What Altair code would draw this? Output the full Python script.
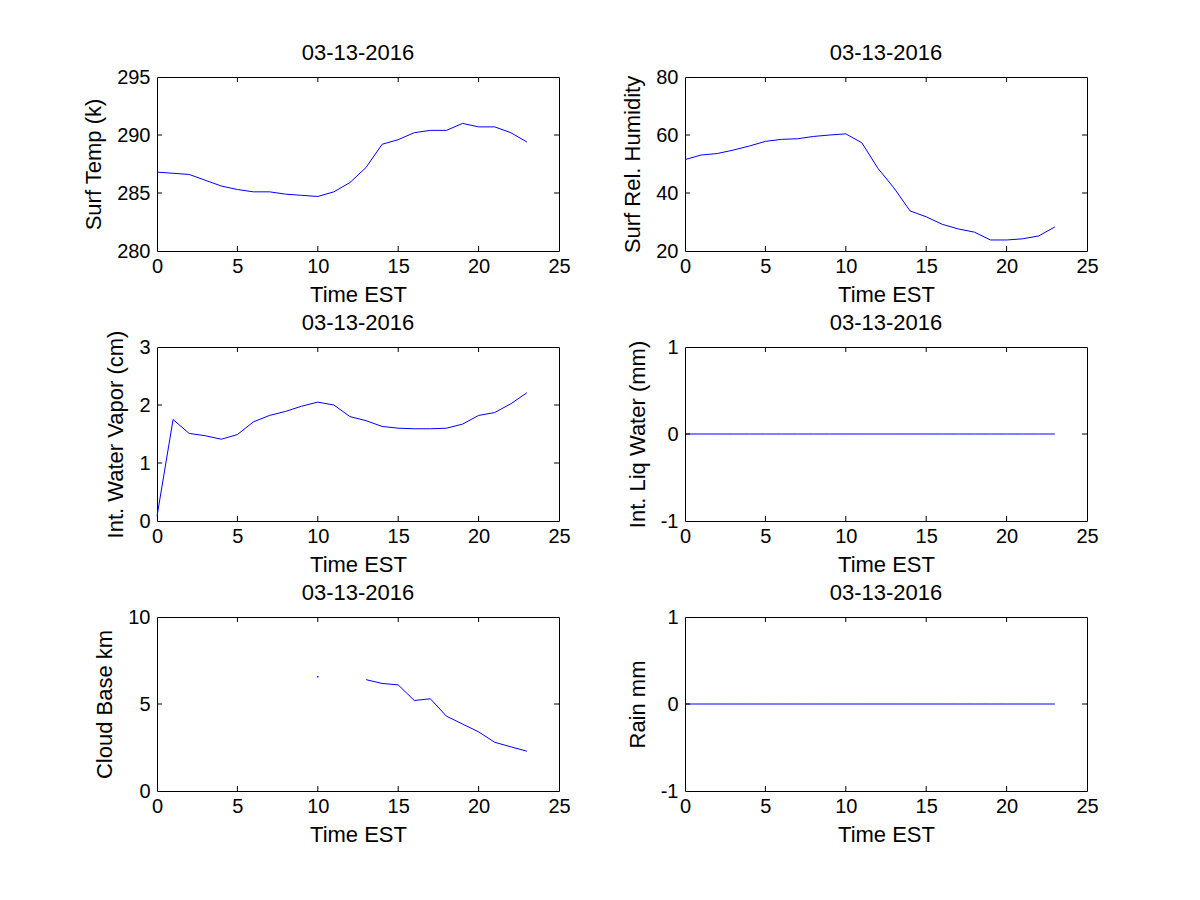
import altair as alt
import pandas as pd

# ---- data ----
hours = list(range(24))
surf_temp = [286.8, 286.7, 286.6, 286.1, 285.6, 285.3, 285.1, 285.1, 284.9, 284.8,
             284.7, 285.1, 285.9, 287.2, 289.2, 289.6, 290.2, 290.4, 290.4, 291.0,
             290.7, 290.7, 290.2, 289.4]
rel_hum = [51.5, 53.1, 53.6, 54.8, 56.2, 57.8, 58.5, 58.7, 59.5, 60.0,
           60.4, 57.3, 48.5, 41.7, 33.8, 31.8, 29.2, 27.6, 26.5, 23.8,
           23.8, 24.2, 25.2, 28.3]
water_vapor = [0.08, 1.75, 1.51, 1.47, 1.41, 1.49, 1.71, 1.82, 1.89, 1.98,
               2.05, 2.00, 1.80, 1.73, 1.63, 1.60, 1.59, 1.59, 1.60, 1.67,
               1.82, 1.87, 2.02, 2.21]
liq_water = [0, 0, 0, 0, 0, 0, 0, 0, 0, 0, 0, 0, 0, 0, 0, 0, 0, 0, 0, 0, 0, 0, 0, 0]
cloud_base = [None, None, None, None, None, None, None, None, None, None,
              6.57, None, None, 6.40, 6.18, 6.10, 5.20, 5.30, 4.30, 3.85,
              3.40, 2.80, 2.54, 2.29]
rain = [0, 0, 0, 0, 0, 0, 0, 0, 0, 0, 0, 0, 0, 0, 0, 0, 0, 0, 0, 0, 0, 0, 0, 0]

x_ticks = [0, 5, 10, 15, 20, 25]
temp_ticks = [280, 285, 290, 295]
hum_ticks = [20, 40, 60, 80]
vapor_ticks = [0, 1, 2, 3]
pm_ticks = [-1, 0, 1]
cloud_ticks = [0, 5, 10]

date_title = "03-13-2016"
x_title = "Time EST"

FONT = "Liberation Sans"
W, H = 402, 174
BLUE = "#0000ff"
TICK = 5


def panel(values, ylabel, yticks, anchor=False):
    df = pd.DataFrame({"hour": hours, "value": values})
    valid = df["value"].notna()
    df["seg"] = (~valid).cumsum()
    df = df[valid].copy()
    df["n"] = df.groupby("seg")["value"].transform("size")

    xs = alt.Scale(domain=[x_ticks[0], x_ticks[-1]], nice=False, zero=False)
    ys = alt.Scale(domain=[yticks[0], yticks[-1]], nice=False, zero=False)
    xax = alt.Axis(values=x_ticks, title=x_title, labelExpr="'' + datum.value")
    yax = alt.Axis(values=yticks, title=ylabel, labelExpr="'' + datum.value")

    def X(field="hour"):
        return alt.X(f"{field}:Q", scale=xs, axis=xax)

    def Y(field="value"):
        return alt.Y(f"{field}:Q", scale=ys, axis=yax)

    base = alt.Chart(df)
    line = base.mark_line(color=BLUE, strokeWidth=1).encode(
        x=X(), y=Y(), detail="seg:N")
    dot = base.transform_filter("datum.n == 1").mark_square(
        color=BLUE, size=2, opacity=1).encode(x=X(), y=Y())

    xt = pd.DataFrame({"hour": x_ticks[1:-1]})
    yt = pd.DataFrame({"value": yticks[1:-1]})
    t_top = alt.Chart(xt).mark_rule(color="black", strokeWidth=1).encode(
        x=X(), y=alt.value(0), y2=alt.value(TICK))
    t_bot = alt.Chart(xt).mark_rule(color="black", strokeWidth=1).encode(
        x=X(), y=alt.value(H - TICK), y2=alt.value(H))
    t_left = alt.Chart(yt).mark_rule(color="black", strokeWidth=1).encode(
        y=Y(), x=alt.value(0), x2=alt.value(TICK))
    t_right = alt.Chart(yt).mark_rule(color="black", strokeWidth=1).encode(
        y=Y(), x=alt.value(W - TICK), x2=alt.value(W))

    ttl = alt.Chart(pd.DataFrame({"t": [date_title]})).mark_text(
        font=FONT, fontSize=22, color="black", baseline="alphabetic",
        align="center").encode(text="t:N", x=alt.value(W / 2), y=alt.value(-17))

    layers = [line, dot, t_top, t_bot, t_left, t_right, ttl]
    if anchor:
        anc = alt.Chart(xt).mark_rule(strokeOpacity=0, color="white").encode(
            x=alt.value(-148), x2=alt.value(-147),
            y=alt.value(-68), y2=alt.value(-67))
        layers.append(anc)

    return alt.layer(*layers).properties(width=W, height=H)


panels = [
    panel(surf_temp, "Surf Temp (k)", temp_ticks, anchor=True),
    panel(rel_hum, "Surf Rel. Humidity", hum_ticks),
    panel(water_vapor, "Int. Water Vapor (cm)", vapor_ticks),
    panel(liq_water, "Int. Liq Water (mm)", pm_ticks),
    panel(cloud_base, "Cloud Base km", cloud_ticks),
    panel(rain, "Rain mm", pm_ticks),
]

chart = alt.concat(
    *panels, columns=2, spacing={"row": 96, "column": 126}, bounds="flush"
).properties(
    padding=0, background="white"
).configure_view(
    stroke="black", strokeWidth=1
).configure_axis(
    labelFont=FONT, labelFontSize=20, labelColor="black",
    titleFont=FONT, titleFontSize=22, titleFontWeight="normal", titleColor="black",
    domain=False, ticks=False, tickSize=0, grid=False,
    labelFlush=False, labelOverlap=False, labelBound=False,
).configure_axisX(
    labelPadding=5, titlePadding=8
).configure_axisY(
    labelPadding=7, titlePadding=11
)

chart.save("out.html", embed_options={"renderer": "svg", "actions": False})
